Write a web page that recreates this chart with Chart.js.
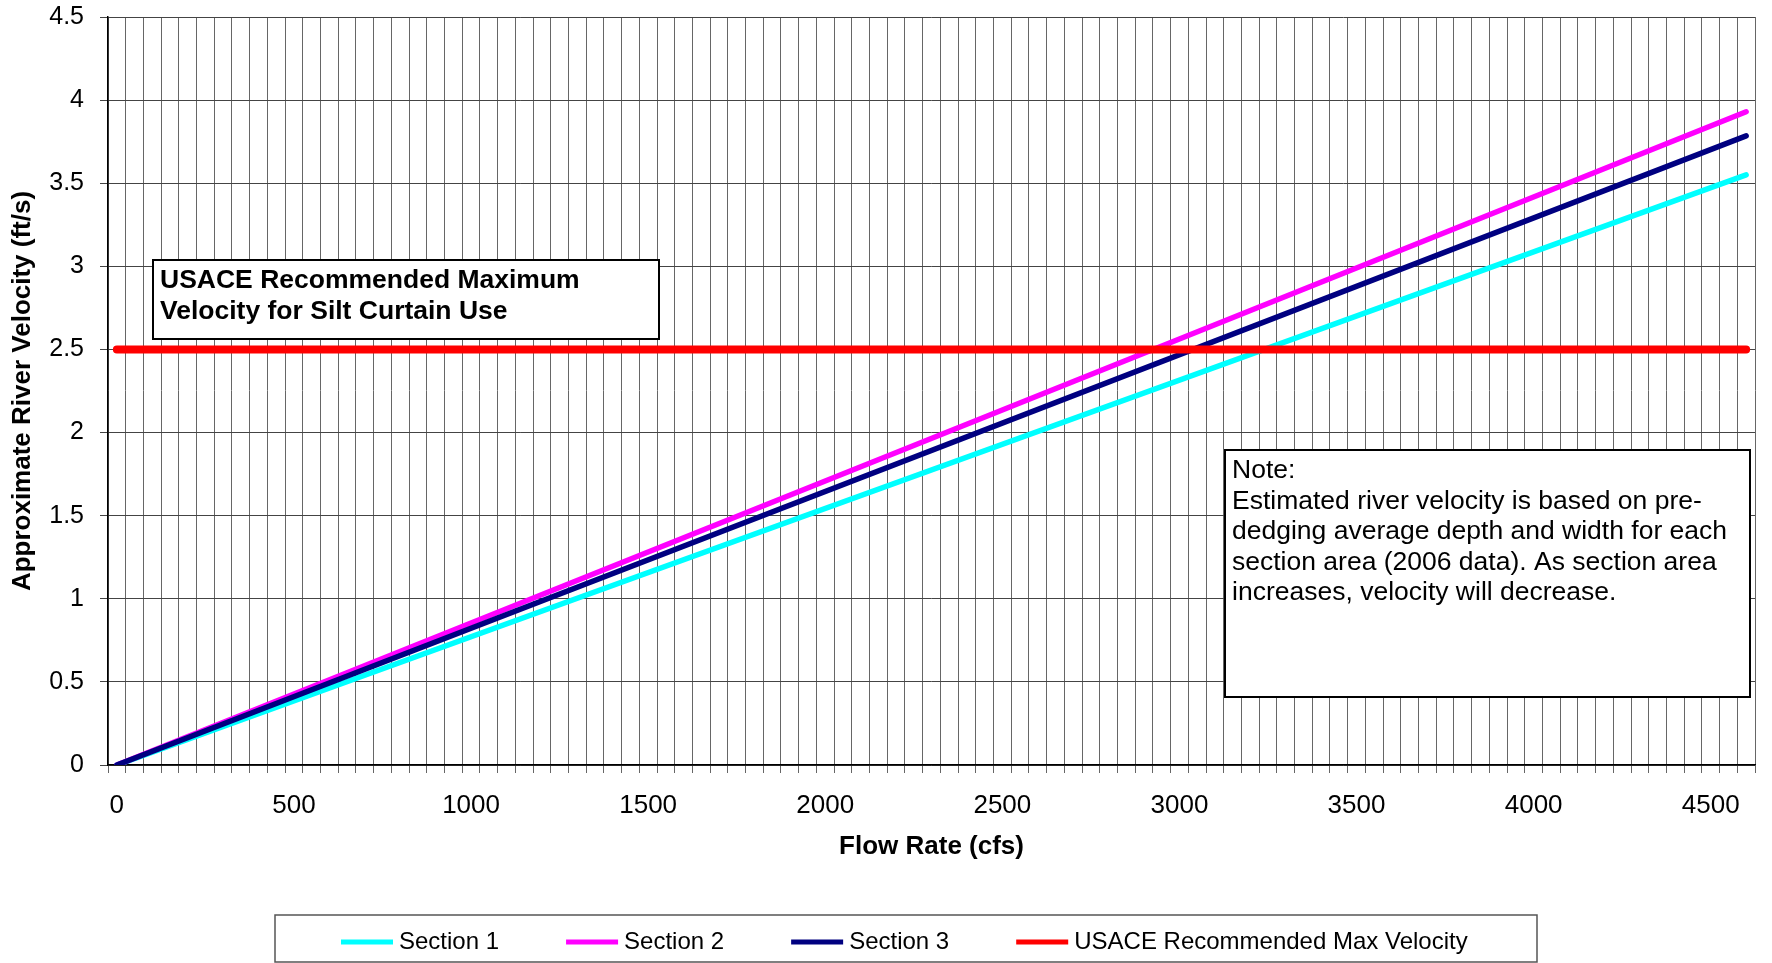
<!DOCTYPE html>
<html>
<head>
<meta charset="utf-8">
<title>River velocity vs flow rate</title>
<script src="https://cdn.jsdelivr.net/npm/chart.js@4.4.1/dist/chart.umd.min.js"></script>
<style>
  html, body { margin: 0; padding: 0; background: #fff; }
  canvas { display: block; }
</style>
</head>
<body>
<canvas id="velocityChart" width="1772" height="963"></canvas>
<script>
// flow rate (cfs) at the two ends of every line
const flowRates = [0, 4600];
const section1 = [0, 3.55];
const section2 = [0, 3.93];
const section3 = [0, 3.785];
const usaceMax = [2.5, 2.5];

const seriesNames = ['Section 1', 'Section 2', 'Section 3', 'USACE Recommended Max Velocity'];
const seriesColors = ['#00FFFF', '#FF00FF', '#000080', '#FF0000'];

// x axis works like excel categories: one slot per 50 cfs, grid between slots
const flowLabels = [0, 500, 1000, 1500, 2000, 2500, 3000, 3500, 4000, 4500];
const flowStep = 50;
const flowMin = -25;
const flowMax = 4625;
const velocityTicks = [0, 0.5, 1, 1.5, 2, 2.5, 3, 3.5, 4, 4.5];

const usaceLines = ['USACE Recommended Maximum', 'Velocity for Silt Curtain Use'];
const noteLines = [
    'Note:',
    'Estimated river velocity is based on pre-',
    'dedging average depth and width for each',
    'section area (2006 data). As section area',
    'increases, velocity will decrease.'
];

const FONT = "'Liberation Sans', Arial, sans-serif";
Chart.defaults.font.family = FONT;
Chart.defaults.color = '#000';

function toPoints(ys) {
    return flowRates.map((x, i) => ({ x: x, y: ys[i] }));
}

function drawTextBox(ctx, box, lines, font) {
    ctx.save();
    ctx.fillStyle = '#fff';
    ctx.fillRect(box.x, box.y, box.w, box.h);
    ctx.lineWidth = 2;
    ctx.strokeStyle = '#000';
    ctx.strokeRect(box.x, box.y, box.w, box.h);
    ctx.fillStyle = '#000';
    ctx.font = font;
    ctx.textBaseline = 'middle';
    lines.forEach((t, i) => ctx.fillText(t, box.x + 7, box.y + box.first + i * box.lineHeight));
    ctx.restore();
}

const extrasPlugin = {
    id: 'extras',
    afterDraw(chart) {
        const ctx = chart.ctx;
        drawTextBox(ctx, { x: 153, y: 260, w: 506, h: 79, first: 21, lineHeight: 31 },
            usaceLines, 'bold 26.5px ' + FONT);
        drawTextBox(ctx, { x: 1225, y: 450, w: 525, h: 247, first: 21, lineHeight: 30.5 },
            noteLines, '26.5px ' + FONT);

        // legend
        ctx.save();
        ctx.strokeStyle = '#555';
        ctx.lineWidth = 1.5;
        ctx.strokeRect(275, 915, 1262, 47);
        ctx.font = '24px ' + FONT;
        ctx.textBaseline = 'middle';
        let x = 341;
        const y = 942;
        chart.data.datasets.forEach(ds => {
            ctx.fillStyle = ds.borderColor;
            ctx.fillRect(x, y - 2.5, 52, 5);
            ctx.fillStyle = '#000';
            ctx.fillText(ds.label, x + 58, y);
            x += 58 + ctx.measureText(ds.label).width + 67;
        });
        ctx.restore();
    }
};

const allSeries = [section1, section2, section3, usaceMax];
const datasets = allSeries.map((ys, i) => ({
    label: seriesNames[i],
    data: toPoints(ys),
    borderColor: seriesColors[i],
    backgroundColor: seriesColors[i],
    borderWidth: i === 3 ? 8 : 5.5,
    borderCapStyle: 'round',
    pointRadius: 0,
    tension: 0,
    fill: false,
    order: 3 - i
}));

const ctx = document.getElementById('velocityChart').getContext('2d');
new Chart(ctx, {
    type: 'line',
    data: { datasets: datasets },
    options: {
        responsive: false,
        animation: false,
        layout: { padding: { top: 17, right: 8, bottom: 0, left: 0 } },
        plugins: {
            legend: { display: false },
            tooltip: { enabled: false }
        },
        scales: {
            x: {
                type: 'linear',
                min: flowMin,
                max: flowMax,
                afterBuildTicks(scale) {
                    const ticks = [];
                    for (let v = flowMin; v <= flowMax; v += flowStep) ticks.push({ value: v });
                    flowLabels.forEach(v => ticks.push({ value: v }));
                    ticks.sort((a, b) => a.value - b.value);
                    scale.ticks = ticks;
                },
                afterFit(scale) { scale.height = 198; },
                ticks: {
                    autoSkip: false,
                    maxRotation: 0,
                    padding: 17,
                    font: { size: 26 },
                    callback: v => flowLabels.includes(v) ? String(v) : ''
                },
                grid: {
                    color: c => (c.tick && flowLabels.includes(c.tick.value)) ? 'rgba(0,0,0,0)' : '#666',
                    lineWidth: 1,
                    tickLength: 8
                },
                border: { color: '#000', width: 1.5 },
                title: {
                    display: true,
                    text: 'Flow Rate (cfs)',
                    font: { size: 26, weight: 'bold' },
                    padding: { top: 0, bottom: 101 }
                }
            },
            y: {
                min: 0,
                max: 4.5,
                afterBuildTicks(scale) {
                    scale.ticks = velocityTicks.map(v => ({ value: v }));
                },
                afterFit(scale) {
                    scale.width = 108;
                    scale.paddingTop = 15;
                    scale.paddingBottom = 15;
                },
                ticks: {
                    padding: 16,
                    font: { size: 25 },
                    callback: v => String(v)
                },
                grid: { color: '#444', lineWidth: 1, tickLength: 8 },
                border: { color: '#000', width: 1.5 },
                title: {
                    display: true,
                    text: 'Approximate River Velocity (ft/s)',
                    font: { size: 26, weight: 'bold' },
                    padding: { top: 7, bottom: 0 }
                }
            }
        }
    },
    plugins: [extrasPlugin]
});
</script>
</body>
</html>
